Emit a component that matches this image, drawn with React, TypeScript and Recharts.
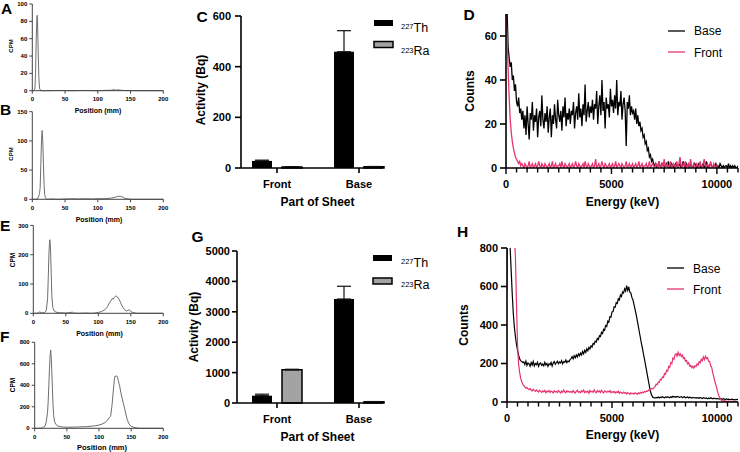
import React from 'react';
import { LineChart, Line, BarChart, Bar, XAxis, YAxis, ErrorBar } from 'recharts';

const W = 740;
const H = 452;
const FONT = 'Arial, "Liberation Sans", Helvetica, sans-serif';
const PINK = '#e8336f';
const RA_GREY = '#a3a3a3';

// ---------- TLC radiochromatograms (A, B, E, F) ----------
const POS_TICKS = [0, 50, 100, 150, 200];

const A_POS = [0, 2, 4, 5, 6, 7, 7.5, 8, 9, 10, 11, 12, 14, 20, 40, 60, 80, 100, 115, 120, 125, 128, 130, 140, 160, 180, 200];
const A_CPM = [0, 0, 2, 20, 60, 84, 87, 80, 45, 15, 3, 1, 0, 0, 0.3, 0, 0.3, 0, 0.5, 0.5, 1.2, 0.5, 1, 0.2, 0, 0, 0];
const A_YTICKS = [0, 20, 40, 60, 80, 100];

const B_POS = [0, 5, 8, 10, 11, 12, 13, 14, 15, 16, 17, 18, 19, 20, 21, 23, 30, 40, 50, 60, 70, 80, 90, 100, 110, 120, 125, 130, 135, 138, 140, 145, 150, 160, 200];
const B_CPM = [0, 0, 1, 6, 10, 20, 60, 100, 118, 100, 60, 25, 8, 3, 1, 0, 0.5, 0, 0.5, 1, 0.5, 1, 0.5, 1, 1, 2, 3, 5, 5, 4, 2, 1, 0, 0, 0];
const B_YTICKS = [0, 50, 100, 150];

const E_POS = [0, 5, 8, 10, 12, 15, 18, 20, 22, 23, 24, 25, 25.6, 26.5, 27.5, 28.5, 30, 32, 35, 40, 50, 55, 60, 62, 70, 80, 90, 95, 100, 105, 110, 114, 117, 120, 122, 123, 125, 127, 128, 130, 132, 134, 136, 138, 140, 143, 146, 148, 150, 153, 157, 160, 180, 200];
const E_CPM = [0, 0, 2, 5, 2, 1, 3, 10, 50, 120, 200, 245, 251, 220, 140, 60, 20, 8, 4, 2, 1, 2, 4, 1, 0, 1, 0, 1, 3, 6, 12, 22, 35, 45, 52, 48, 55, 60, 57, 55, 48, 38, 28, 20, 13, 8, 10, 12, 6, 3, 1, 0, 0, 0];
const E_YTICKS = [0, 100, 200, 300];

const F_POS = [0, 5, 8, 12, 16, 18, 20, 21, 22, 23, 24, 24.9, 25.8, 26.5, 27.5, 28.5, 29.5, 31, 33, 36, 40, 45, 50, 60, 70, 80, 90, 95, 100, 105, 110, 113, 116, 118, 120, 122, 123, 124, 125, 126, 127, 128, 129, 130, 131, 132, 134, 136, 138, 140, 142, 144, 146, 148, 150, 153, 156, 160, 165, 200];
const F_CPM = [0, 0, 1, 5, 20, 60, 150, 250, 400, 560, 680, 729, 650, 550, 380, 220, 120, 60, 35, 22, 15, 12, 10, 11, 13, 15, 20, 25, 30, 40, 55, 75, 100, 110, 200, 330, 400, 460, 485, 478, 490, 484, 470, 445, 420, 400, 330, 280, 230, 180, 125, 80, 50, 30, 20, 12, 6, 2, 0, 0];
const F_YTICKS = [0, 200, 400, 600, 800];

// ---------- Activity bar charts (C, G) ----------
const CATEGORIES = ['Front', 'Base'];
const C_TH = [28, 459];
const C_TH_ERR = [3, 83];
const C_RA = [4, 5];
const C_RA_ERR = [1, 1];
const C_YTICKS = [0, 200, 400, 600];

const G_TH = [240, 3420];
const G_TH_ERR = [50, 420];
const G_RA = [1090, 40];
const G_RA_ERR = [20, 8];
const G_YTICKS = [0, 1000, 2000, 3000, 4000, 5000];

// ---------- Gamma spectra (D, H), channels every 50 keV from 0 to 11000 ----------
const ENERGY_STEP_KEV = 50;
const ENERGY_TICKS = [0, 500, 1000, 1500, 2000, 2500, 3000, 3500, 4000, 4500, 5000, 5500, 6000, 6500, 7000, 7500, 8000, 8500, 9000, 9500, 10000, 10500, 11000];
const ENERGY_LABELS = [0, 5000, 10000];

const D_BASE = [
  68, 72, 55, 50, 46, 48, 40, 42, 35, 38, 30, 28, 32, 25, 27, 22,
  26, 18, 24, 15, 28, 20, 13, 25, 22, 30, 17, 24, 21, 27, 14, 23, 26, 19, 33, 22, 18, 25, 21, 28, 16,
  23, 27, 14, 24, 20, 29, 22, 18, 31, 24, 21, 26, 17, 28, 23, 32, 19, 25, 22, 27,
  20, 26, 24, 30, 18, 25, 28, 22, 34, 23, 27, 19, 29, 24, 38, 21, 26, 30, 23, 28,
  25, 31, 22, 29, 27, 35, 20, 28, 33, 24, 40, 26, 30, 18, 32, 27, 29, 23, 36, 28,
  31, 25, 33, 27, 40, 24, 30, 28, 35, 22, 29, 32, 26, 10, 30, 27, 33, 24, 28, 25,
  26, 22, 27, 20, 24, 19, 21, 17, 18, 14, 15, 11, 12, 8, 9, 5, 6, 3, 4, 2,
  1, 2, 0, 1, 3, 1, 0, 2, 1, 1, 0, 2, 1, 3, 0, 1, 2, 1, 0, 1,
  2, 1, 0, 1, 2, 0, 1, 3, 1, 0, 2, 1, 1, 0, 2, 1, 0, 1, 2, 1,
  0, 1, 2, 1, 0, 1, 2, 0, 1, 3, 1, 0, 1, 2, 1, 0, 1, 1, 2, 0,
  1, 0, 2, 1, 0, 1, 0, 1, 1, 0, 2, 0, 1, 0, 1, 0, 1, 0, 0, 1,
];
const D_FRONT = [
  70, 60, 45, 32, 22, 16, 12, 9, 7, 5, 4, 3, 2, 3, 1, 2,
  1, 0, 2, 1, 0, 1, 3, 0, 1, 2, 0, 1, 2, 0, 1, 3, 1, 0, 2, 1, 0, 2, 1, 0, 1,
  2, 0, 1, 3, 0, 1, 2, 0, 1, 1, 2, 0, 3, 1, 0, 2, 1, 0, 1, 2,
  0, 1, 2, 0, 1, 3, 1, 0, 2, 1, 0, 1, 2, 0, 3, 1, 0, 2, 1, 0,
  1, 2, 0, 1, 4, 0, 1, 2, 0, 1, 3, 1, 0, 2, 1, 0, 1, 2, 0, 1,
  2, 0, 1, 3, 0, 1, 2, 1, 0, 2, 1, 0, 1, 3, 0, 1, 2, 0, 1, 2,
  0, 1, 2, 0, 1, 3, 0, 1, 2, 0, 1, 1, 2, 0, 1, 3, 0, 1, 2, 1,
  0, 2, 1, 0, 3, 1, 0, 2, 1, 4, 0, 1, 2, 0, 1, 3, 0, 1, 2, 0,
  1, 3, 0, 2, 5, 1, 0, 2, 1, 3, 0, 1, 2, 0, 4, 1, 0, 2, 1, 0,
  2, 1, 0, 3, 1, 0, 2, 4, 1, 0, 2, 1, 0, 3, 1, 0, 2, 1, 0, 1,
  0, null, null, null, null, null, null, null, null, null, null, null, null, null, null, null, null, null, null, null,
];

const H_BASE = [
  900, 950, 880, 800, 680, 560, 460, 390, 340, 300, 270, 245, 225, 215, 210, 205,
  208, 195, 212, 190, 203, 198, 186, 205, 192, 210, 188, 200, 194, 206, 185, 199, 203, 190, 197, 188, 206, 192, 200, 185, 198,
  193, 205, 187, 202, 210, 196, 204, 212, 199, 208, 203, 215, 198, 210, 206, 218, 204, 213, 209, 220,
  225, 236, 224, 240, 230, 244, 234, 250, 240, 254, 244, 262, 250, 268, 258, 276, 266, 284, 276, 292,
  286, 304, 300, 316, 312, 330, 324, 344, 340, 362, 356, 378, 374, 398, 392, 420, 416, 442, 440, 468,
  470, 494, 492, 516, 512, 536, 530, 556, 548, 572, 566, 588, 576, 605, 580, 598, 570, 566, 542, 530,
  505, 480, 455, 425, 395, 365, 335, 305, 278, 248, 220, 190, 160, 130, 100, 72, 48, 32, 24, 22,
  20, 24, 22, 26, 21, 25, 23, 27, 24, 22, 26, 23, 28, 25, 22, 27, 24, 30, 26, 28,
  25, 29, 27, 24, 26, 28, 23, 25, 27, 22, 24, 26, 21, 25, 23, 20, 24, 22, 21, 23,
  20, 22, 19, 23, 21, 18, 22, 20, 19, 21, 17, 20, 18, 22, 19, 17, 20, 18, 16, 19,
  17, 15, 18, 16, 14, 17, 15, 13, 16, 14, 15, 13, 12, 15, 14, 12, 13, 11, 14, 12,
];
const H_FRONT = [
  580, 1100, 1300, 1200, 1100, 1000, 920, 850, 760, 520, 300, 200, 155, 125, 105, 92,
  85, 78, 72, 75, 68, 64, 70, 62, 58, 66, 60, 55, 63, 57, 52, 61, 55, 50, 58, 53, 60, 48, 56, 52, 59,
  50, 57, 53, 47, 58, 52, 55, 49, 60, 54, 46, 57, 51, 62, 53, 48, 58, 52, 56, 50,
  55, 49, 59, 52, 47, 56, 61, 50, 54, 48, 58, 53, 62, 49, 55, 51, 57, 46, 60, 52,
  56, 50, 63, 54, 48, 59, 52, 57, 49, 61, 53, 47, 58, 55, 50, 56, 52, 59, 48, 54,
  50, 55, 47, 53, 49, 56, 45, 52, 48, 44, 51, 46, 50, 42, 48, 45, 40, 47, 43, 46,
  41, 48, 44, 40, 47, 43, 50, 45, 52, 48, 55, 52, 58, 56, 62, 60, 66, 70, 68, 75,
  80, 92, 90, 104, 102, 118, 115, 130, 128, 148, 145, 165, 160, 185, 180, 205, 200, 228, 222, 245,
  250, 238, 258, 242, 250, 236, 244, 226, 230, 212, 216, 198, 204, 186, 190, 178, 186, 176, 188, 184,
  198, 192, 210, 204, 222, 214, 234, 220, 238, 226, 230, 212, 210, 188, 178, 150, 130, 105, 88, 66,
  45, 30, 18, 10, 6, 4, 8, 3, 5, 2, 6, 3, 1, 4, 2, 5, 1, 3, 2, 1,
];
const D_YTICKS = [0, 20, 40, 60];
const H_YTICKS = [0, 200, 400, 600, 800];

// ---------- layout helpers ----------
type Rect = { x0: number; x1: number; y0: number; y1: number };
const marginFor = (r: Rect, yw: number, xh: number) => ({
  top: r.y0,
  left: r.x0 - yw,
  right: W - r.x1,
  bottom: H - r.y1 - xh,
});
const layer: React.CSSProperties = { position: 'absolute', left: 0, top: 0, width: W, height: H };

const RECT_A: Rect = { x0: 32.3, x1: 163.3, y0: 4, y1: 90.7 };
const RECT_B: Rect = { x0: 32.3, x1: 163.3, y0: 111.7, y1: 199.3 };
const RECT_E: Rect = { x0: 33.3, x1: 163.3, y0: 225.4, y1: 313.3 };
const RECT_F: Rect = { x0: 34.7, x1: 163.3, y0: 342.3, y1: 428.3 };
const RECT_C: Rect = { x0: 241, x1: 383, y0: 16, y1: 168 };
const RECT_G: Rect = { x0: 237, x1: 383, y0: 251, y1: 403 };
const RECT_D: Rect = { x0: 506, x1: 738, y0: 14, y1: 168 };
const RECT_H: Rect = { x0: 507, x1: 738, y0: 248, y1: 402 };

function TlcPanel({ pos, cpm, rect, yMax, yTicks }: { pos: number[]; cpm: number[]; rect: Rect; yMax: number; yTicks: number[] }) {
  const rows = pos.map((p, i) => ({ mm: p, cpm: cpm[i] }));
  const tickStyle = { fontSize: 6, fontWeight: 700, fill: '#000', fontFamily: FONT };
  const axisStroke = { stroke: '#444', strokeWidth: 1 };
  return (
    <div style={layer}>
      <LineChart width={W} height={H} data={rows} margin={marginFor(rect, 30, 20)}>
        <XAxis type="number" dataKey="mm" domain={[0, 200]} ticks={POS_TICKS} interval={0} height={20} tickSize={3} tickMargin={3} axisLine={axisStroke} tickLine={axisStroke} tick={tickStyle} />
        <YAxis type="number" domain={[0, yMax]} ticks={yTicks} interval={0} width={30} tickSize={3} tickMargin={2} axisLine={axisStroke} tickLine={axisStroke} tick={tickStyle} />
        <Line type="linear" dataKey="cpm" stroke="#6e6e6e" strokeWidth={1} dot={false} isAnimationActive={false} />
      </LineChart>
    </div>
  );
}

function ActivityPanel({ th, thErr, ra, raErr, rect, yMax, yTicks, pad, ySize, yMargin }: any) {
  const rows = CATEGORIES.map((c, i) => ({ part: c, th: th[i], thErr: [0, thErr[i]], ra: ra[i], raErr: [0, raErr[i]] }));
  const axis = { stroke: '#000', strokeWidth: 1.6 };
  return (
    <div style={layer}>
      <BarChart width={W} height={H} data={rows} margin={marginFor(rect, 50, 40)} barSize={20} barGap={10}>
        <XAxis dataKey="part" type="category" padding={pad} interval={0} height={40} tickSize={5} tickMargin={7} axisLine={axis} tickLine={axis} tick={{ fontSize: 11, fontWeight: 700, fill: '#000', fontFamily: FONT }} />
        <YAxis type="number" domain={[0, yMax]} ticks={yTicks} interval={0} width={50} tickSize={ySize} tickMargin={yMargin} axisLine={axis} tickLine={axis} tick={{ fontSize: 11, fontWeight: 700, fill: '#000', fontFamily: FONT }} />
        <Bar dataKey="th" fill="#000" isAnimationActive={false}>
          <ErrorBar dataKey="thErr" width={7} stroke="#111" strokeWidth={1.2} direction="y" isAnimationActive={false} />
        </Bar>
        <Bar dataKey="ra" fill={RA_GREY} stroke="#000" strokeWidth={1.5} isAnimationActive={false}>
          <ErrorBar dataKey="raErr" width={7} stroke="#111" strokeWidth={1.2} direction="y" isAnimationActive={false} />
        </Bar>
      </BarChart>
    </div>
  );
}

const EnergyTick = (props: any) => {
  const { x, y, payload } = props;
  const v = payload.value as number;
  const major = ENERGY_LABELS.includes(v);
  return (
    <g>
      <line x1={x} x2={x} y1={y} y2={y + (major ? 6 : 4.5)} stroke="#000" strokeWidth={1.4} />
      {major ? (
        <text x={x} y={y + 20} textAnchor="middle" fontSize={11} fontWeight={700} fontFamily={FONT} fill="#000">
          {v}
        </text>
      ) : null}
    </g>
  );
};

function SpectrumPanel({ base, front, rect, yMax, yTicks, lw }: { base: (number | null)[]; front: (number | null)[]; rect: Rect; yMax: number; yTicks: number[]; lw: number }) {
  const rows = base.map((b, i) => ({ e: i * ENERGY_STEP_KEV, base: b, front: front[i] }));
  const axis = { stroke: '#000', strokeWidth: 1.6 };
  return (
    <div style={layer}>
      <LineChart width={W} height={H} data={rows} margin={marginFor(rect, 45, 30)}>
        <XAxis type="number" dataKey="e" domain={[0, 11000]} ticks={ENERGY_TICKS} interval={0} height={30} tickSize={0} tickMargin={0} tickLine={false} axisLine={axis} tick={(p: any) => <EnergyTick {...p} />} allowDataOverflow />
        <YAxis type="number" domain={[0, yMax]} ticks={yTicks} interval={0} width={45} tickSize={6} tickMargin={3} axisLine={axis} tickLine={axis} tick={{ fontSize: 11, fontWeight: 700, fill: '#000', fontFamily: FONT }} allowDataOverflow />
        <Line type="linear" dataKey="base" stroke="#000" strokeWidth={lw} dot={false} isAnimationActive={false} />
        <Line type="linear" dataKey="front" stroke={PINK} strokeWidth={lw} dot={false} isAnimationActive={false} />
      </LineChart>
    </div>
  );
}

const Txt = (p: any) => <text fontFamily={FONT} fill="#000" {...p} />;
const VTxt = ({ cx, cy, children, ...rest }: any) => (
  <text fontFamily={FONT} fill="#000" textAnchor="middle" dominantBaseline="central" transform={`translate(${cx},${cy}) rotate(-90)`} {...rest}>
    {children}
  </text>
);

function Overlay() {
  const L = { fontSize: 15.5, fontWeight: 700 };
  const T = { fontSize: 12, fontWeight: 700, textAnchor: 'middle' };
  return (
    <svg width={W} height={H} style={{ ...layer, pointerEvents: 'none' }}>
      {/* panel letters */}
      <Txt x={1} y={13.5} {...L}>A</Txt>
      <Txt x={0} y={115} {...L}>B</Txt>
      <Txt x={0} y={230.5} {...L}>E</Txt>
      <Txt x={0} y={342} {...L}>F</Txt>
      <Txt x={196.5} y={21.7} {...L}>C</Txt>
      <Txt x={191.5} y={241.7} {...L}>G</Txt>
      <Txt x={463.5} y={20} {...L}>D</Txt>
      <Txt x={457} y={236.7} {...L}>H</Txt>

      {/* TLC axis titles */}
      <VTxt cx={11.3} cy={46} fontSize={6} fontWeight={700}>CPM</VTxt>
      <VTxt cx={11.3} cy={154} fontSize={6} fontWeight={700}>CPM</VTxt>
      <VTxt cx={12.3} cy={260} fontSize={6.5} fontWeight={700}>CPM</VTxt>
      <VTxt cx={12.3} cy={385} fontSize={6.5} fontWeight={700}>CPM</VTxt>
      <Txt x={98} y={112.5} fontSize={7} fontWeight={700} textAnchor="middle">Position (mm)</Txt>
      <Txt x={99} y={221.5} fontSize={7} fontWeight={700} textAnchor="middle">Position (mm)</Txt>
      <Txt x={99.5} y={335.5} fontSize={7} fontWeight={700} textAnchor="middle">Position (mm)</Txt>
      <Txt x={102} y={450} fontSize={7.5} fontWeight={700} textAnchor="middle">Position (mm)</Txt>

      {/* bar chart titles */}
      <VTxt cx={201} cy={90} fontSize={12} fontWeight={700}>Activity (Bq)</VTxt>
      <VTxt cx={194} cy={327} fontSize={12} fontWeight={700}>Activity (Bq)</VTxt>
      <Txt x={317.5} y={205.5} {...T}>Part of Sheet</Txt>
      <Txt x={317.5} y={440.5} {...T}>Part of Sheet</Txt>

      {/* spectra titles */}
      <VTxt cx={470} cy={91} fontSize={12} fontWeight={700}>Counts</VTxt>
      <VTxt cx={464} cy={325} fontSize={12} fontWeight={700}>Counts</VTxt>
      <Txt x={622.5} y={205.5} {...T}>Energy (keV)</Txt>
      <Txt x={622.5} y={438.8} {...T}>Energy (keV)</Txt>

      {/* legends C */}
      <rect x={374} y={20} width={19} height={6} fill="#000" />
      <Txt x={401} y={31.5} fontSize={12.5}><tspan fontSize={7.5} dy={-2.5}>227</tspan><tspan dy={2.5}>Th</tspan></Txt>
      <rect x={374} y={41.5} width={19} height={6} fill={RA_GREY} stroke="#000" strokeWidth={1.5} />
      <Txt x={401} y={55} fontSize={12.5}><tspan fontSize={7.5} dy={-2.5}>223</tspan><tspan dy={2.5}>Ra</tspan></Txt>

      {/* legends G */}
      <rect x={373} y={255} width={19} height={6} fill="#000" />
      <Txt x={401} y={266.5} fontSize={12.5}><tspan fontSize={7.5} dy={-2.5}>227</tspan><tspan dy={2.5}>Th</tspan></Txt>
      <rect x={373} y={278} width={19} height={6} fill={RA_GREY} stroke="#000" strokeWidth={1.5} />
      <Txt x={401} y={289} fontSize={12.5}><tspan fontSize={7.5} dy={-2.5}>223</tspan><tspan dy={2.5}>Ra</tspan></Txt>

      {/* legends D */}
      <line x1={668} x2={685} y1={31} y2={31} stroke="#000" strokeWidth={1.3} />
      <Txt x={694} y={35} fontSize={12}>Base</Txt>
      <line x1={668} x2={685} y1={52} y2={52} stroke={PINK} strokeWidth={1.3} />
      <Txt x={694} y={57} fontSize={12}>Front</Txt>

      {/* legends H */}
      <line x1={667} x2={684} y1={268} y2={268} stroke="#000" strokeWidth={1.3} />
      <Txt x={693} y={272.5} fontSize={12}>Base</Txt>
      <line x1={667} x2={684} y1={289} y2={289} stroke={PINK} strokeWidth={1.3} />
      <Txt x={693} y={294} fontSize={12}>Front</Txt>
    </svg>
  );
}

export default function App() {
  return (
    <div style={{ position: 'absolute', left: 0, top: 0, width: W, height: H, background: '#fff', overflow: 'hidden', fontFamily: FONT }}>
      <TlcPanel pos={A_POS} cpm={A_CPM} rect={RECT_A} yMax={100} yTicks={A_YTICKS} />
      <TlcPanel pos={B_POS} cpm={B_CPM} rect={RECT_B} yMax={150} yTicks={B_YTICKS} />
      <TlcPanel pos={E_POS} cpm={E_CPM} rect={RECT_E} yMax={300} yTicks={E_YTICKS} />
      <TlcPanel pos={F_POS} cpm={F_CPM} rect={RECT_F} yMax={800} yTicks={F_YTICKS} />
      <ActivityPanel th={C_TH} thErr={C_TH_ERR} ra={C_RA} raErr={C_RA_ERR} rect={RECT_C} yMax={600} yTicks={C_YTICKS} pad={{ left: -5, right: -17 }} ySize={6} yMargin={4} />
      <ActivityPanel th={G_TH} thErr={G_TH_ERR} ra={G_RA} raErr={G_RA_ERR} rect={RECT_G} yMax={5000} yTicks={G_YTICKS} pad={{ left: -1, right: -17 }} ySize={5} yMargin={2} />
      <SpectrumPanel base={D_BASE} front={D_FRONT} rect={RECT_D} yMax={70} yTicks={D_YTICKS} lw={1.3} />
      <SpectrumPanel base={H_BASE} front={H_FRONT} rect={RECT_H} yMax={800} yTicks={H_YTICKS} lw={1.2} />
      <Overlay />
    </div>
  );
}
